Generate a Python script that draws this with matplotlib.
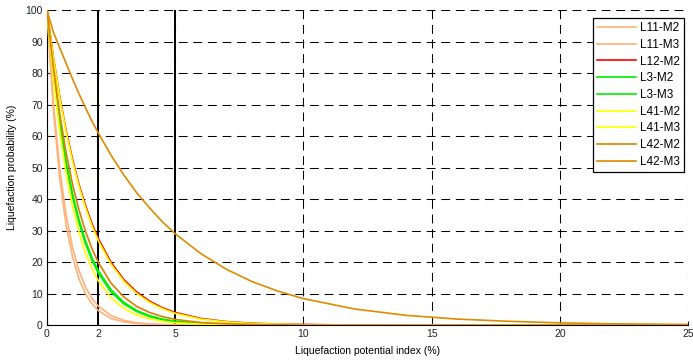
import matplotlib
matplotlib.use("Agg")
import matplotlib.pyplot as plt

plt.rcParams['font.family'] = ['Liberation Sans', 'DejaVu Sans']

lpi = [0, 0.25, 0.5, 0.75, 1, 1.25, 1.5, 1.75, 2, 2.5, 3, 3.5, 4, 4.5, 5,
       6, 7, 8, 9, 10, 12, 14, 16, 18, 20, 22, 25]

L11_M2 = [100, 70.3, 49.5, 34.8, 24.5, 17.2, 12.1, 8.5, 6.0, 3.0, 1.5, 0.7, 0.4, 0.2, 0.1,
          0, 0, 0, 0, 0, 0, 0, 0, 0, 0, 0, 0]
L11_M3 = [100, 68.1, 46.3, 31.5, 21.5, 14.6, 10.0, 6.8, 4.6, 2.1, 1.0, 0.5, 0.2, 0.1, 0,
          0, 0, 0, 0, 0, 0, 0, 0, 0, 0, 0, 0]
L12_M2 = [100, 85.1, 72.4, 61.6, 52.5, 44.6, 38.0, 32.3, 27.5, 19.9, 14.4, 10.5, 7.6, 5.5, 4.0,
          2.1, 1.1, 0.6, 0.3, 0.2, 0, 0, 0, 0, 0, 0, 0]
L3_M2 = [100, 80.3, 64.5, 51.8, 41.6, 33.4, 26.8, 21.5, 17.3, 11.2, 7.2, 4.6, 3.0, 1.9, 1.2,
         0.5, 0.2, 0.1, 0, 0, 0, 0, 0, 0, 0, 0, 0]
L3_M3 = [100, 79.8, 63.7, 50.9, 40.6, 32.4, 25.9, 20.7, 16.5, 10.5, 6.7, 4.3, 2.7, 1.7, 1.1,
         0.4, 0.2, 0.1, 0, 0, 0, 0, 0, 0, 0, 0, 0]
L41_M2 = [100, 84.8, 72.0, 61.1, 51.8, 44.0, 37.3, 31.6, 26.8, 19.3, 13.9, 10.0, 7.2, 5.2, 3.7,
          1.9, 1.0, 0.5, 0.3, 0.1, 0, 0, 0, 0, 0, 0, 0]
L41_M3 = [100, 78.3, 61.3, 47.9, 37.5, 29.4, 23.0, 18.0, 14.1, 8.6, 5.3, 3.2, 2.0, 1.2, 0.7,
          0.3, 0.1, 0, 0, 0, 0, 0, 0, 0, 0, 0, 0]
L42_M2 = [100, 81.7, 66.8, 54.6, 44.6, 36.5, 29.8, 24.4, 19.9, 13.3, 8.9, 5.9, 4.0, 2.7, 1.8,
          0.8, 0.4, 0.2, 0.1, 0, 0, 0, 0, 0, 0, 0, 0]
L42_M3 = [100, 93.0, 88.0, 83.0, 78.1, 73.4, 69.0, 64.8, 61.0, 53.9, 47.6, 42.0, 37.2, 32.8, 29.0,
          22.7, 17.7, 13.8, 10.8, 8.4, 5.1, 3.1, 1.9, 1.2, 0.7, 0.4, 0.2]

series = [
    ("L11-M2", L11_M2, "#FFB27A"),
    ("L11-M3", L11_M3, "#FFB27A"),
    ("L12-M2", L12_M2, "#FF0000"),
    ("L3-M2", L3_M2, "#00EE00"),
    ("L3-M3", L3_M3, "#00EE00"),
    ("L41-M2", L41_M2, "#FFFF00"),
    ("L41-M3", L41_M3, "#FFFF00"),
    ("L42-M2", L42_M2, "#D98000"),
    ("L42-M3", L42_M3, "#E08A00"),
]

xticks = [0, 2, 5, 10, 15, 20, 25]
yticks = list(range(0, 101, 10))
threshold_lines = [2, 5]

fig = plt.figure(figsize=(6.93, 3.62), dpi=100)
ax = fig.add_axes([0.0678, 0.102, 0.925, 0.870])

for xv in threshold_lines:
    ax.axvline(xv, color="black", lw=1.4, zorder=1)

for name, vals, col in series:
    ax.plot(lpi, vals, color=col, lw=1.2, label=name, zorder=3)

ax.set_xlim(0, 25)
ax.set_ylim(0, 100)
ax.set_xticks(xticks)
ax.set_yticks(yticks)
ax.grid(True, color="black", lw=0.75, linestyle=(0, (8.5, 5.5)))
ax.set_axisbelow(True)
for s in ["top", "right"]:
    ax.spines[s].set_visible(False)
for s in ["left", "bottom"]:
    ax.spines[s].set_linewidth(0.8)
ax.tick_params(direction="in", length=3, labelsize=7.5, colors="#222222", pad=3)

ax.set_xlabel("Liquefaction potential index (%)", fontsize=7.5, labelpad=5)
ax.set_ylabel("Liquefaction probability (%)", fontsize=7.5, labelpad=6)

leg = ax.legend(loc="upper right", fontsize=8.5, frameon=True, fancybox=False,
                edgecolor="black", framealpha=1, labelspacing=0.4,
                handlelength=3.3, handletextpad=0.3, borderpad=0.35,
                borderaxespad=0,
                bbox_to_anchor=(684 / 693, (362 - 18) / 362),
                bbox_transform=fig.transFigure)
leg.get_frame().set_linewidth(0.9)

fig.savefig("out.png", dpi=100)
